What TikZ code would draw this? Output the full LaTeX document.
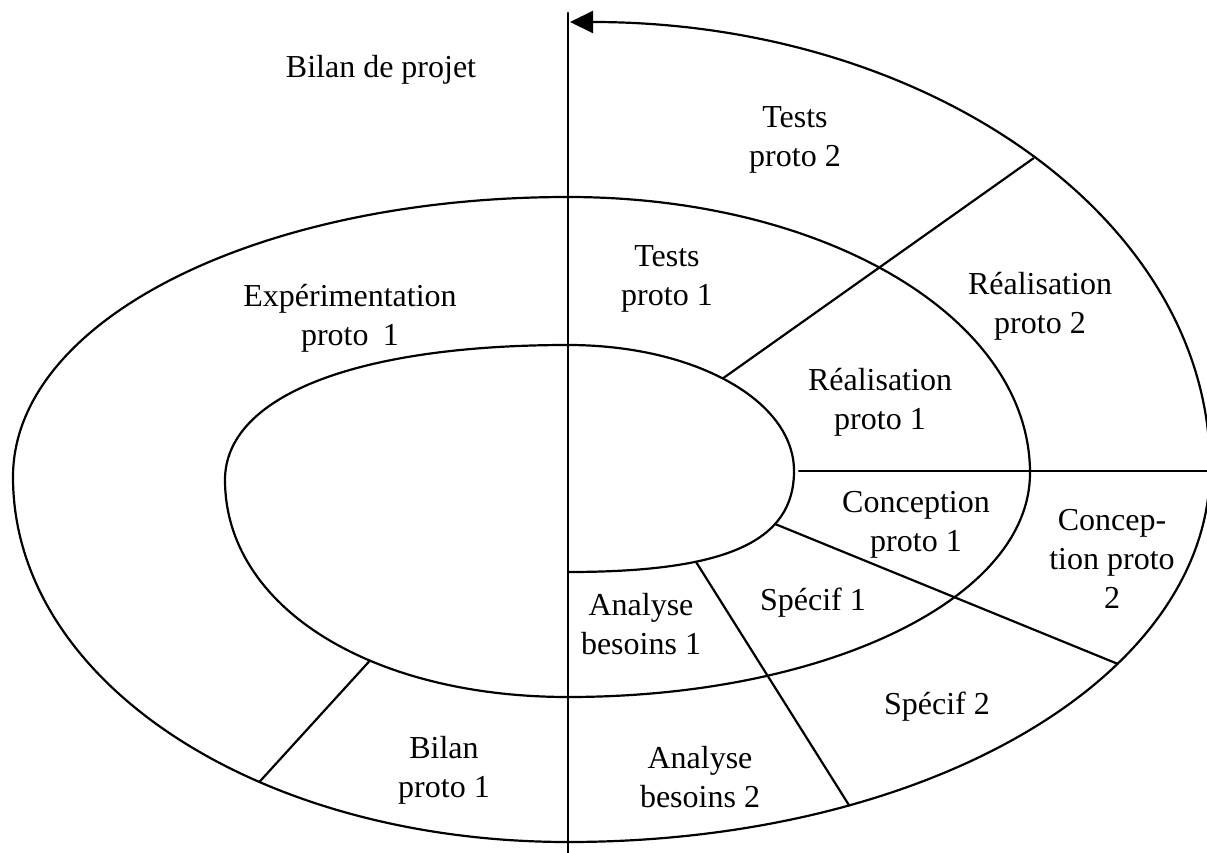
\documentclass[tikz,border=0pt]{standalone}
\usepackage{fontspec}
\setmainfont{Liberation Serif}
\usetikzlibrary{arrows.meta}
\begin{document}
\begin{tikzpicture}[x=1pt,y=-1pt,
  curve/.style={line width=2.2pt, line cap=round},
  lbl/.style={font=\fontsize{32}{39}\selectfont, align=center, inner sep=0pt}]
\useasboundingbox (0,0) rectangle (1207,853);
\fill[white] (0,0) rectangle (1207,853);

% key points of the spiral (top, bottom and extreme of each half turn)
\coordinate (T1) at (568,345);
\coordinate (E1) at (794,471);
\coordinate (B1) at (568,572);
\coordinate (W1) at (225,480);
\coordinate (B2) at (568,697);
\coordinate (T2) at (568,197);
\coordinate (E2) at (1030,473);
\coordinate (W2) at (13,477);
\coordinate (B3) at (568,842);
\coordinate (E3) at (1210,468);
\coordinate (T3) at (570,22);
\coordinate (axtop) at (568,13);
\coordinate (axbot) at (568,853);
\coordinate (h0) at (799,471);
\coordinate (h1) at (1207,471);

% vertical axis
\draw[curve] (axtop) -- (axbot);

% first half turn, right
\draw[curve] (T1) .. controls (694.6,345) and (794,400.4) .. (E1) coordinate[pos=0.477] (sa)
  .. controls (794,541.7) and (726.2,572) .. (B1) coordinate[pos=0.3] (sc) coordinate[pos=0.67] (sd);
% first half turn, left
\draw[curve] (T1) .. controls (355.3,345) and (225,396.3) .. (W1)
  .. controls (225,605.9) and (369.1,697) .. (B2) coordinate[pos=0.62] (se);
% second half turn, right
\draw[curve] (T2) .. controls (826.7,197) and (1030,318.4) .. (E2)
  .. controls (1030,598.4) and (826.7,697) .. (B2);
% second half turn, left
\draw[curve] (T2) .. controls (257.2,197) and (13,320.2) .. (W2)
  .. controls (13,681.4) and (257.2,842) .. (B3) coordinate[pos=0.63] (ee);
% outer turn, right, ending with the arrow
\draw[curve] (B3) .. controls (927.5,842) and (1210,677.4) .. (E3)
  coordinate[pos=0.282] (de) coordinate[pos=0.655] (ce);
\draw[curve, -{Triangle[length=23pt,width=22pt]}] (E3) .. controls (1210,218.2) and (927.5,22) .. (T3)
  coordinate[pos=0.486] (ae);

% phase separators
\draw[curve] (sa) -- (ae);
\draw[curve] (h0) -- (h1);
\draw[curve] (sc) -- (ce);
\draw[curve] (sd) -- (de);
\draw[curve] (se) -- (ee);

% phase labels
\node[lbl] (bp)  at (381,70)  {Bilan de projet};
\node[lbl] (tp2) at (795,140) {Tests\\proto 2};
\node[lbl] (tp1) at (667,279) {Tests\\proto 1};
\node[lbl] (ex1) at (350,318) {Expérimentation\\proto\hspace{0.45em}1};
\node[lbl] (re2) at (1040,306) {Réalisation\\proto 2};
\node[lbl] (re1) at (880,402) {Réalisation\\proto 1};
\node[lbl] (co1) at (916,525) {Conception\\proto 1};
\node[lbl] (co2) at (1112,559) {Concep-\\tion proto\\2};
\node[lbl] (sp1) at (813,603) {Spécif 1};
\node[lbl] (an1) at (641,624) {Analyse\\besoins 1};
\node[lbl] (sp2) at (937,707) {Spécif 2};
\node[lbl] (an2) at (700,777) {Analyse\\besoins 2};
\node[lbl] (bi1) at (444,770) {Bilan\\proto 1};
\end{tikzpicture}
\end{document}
